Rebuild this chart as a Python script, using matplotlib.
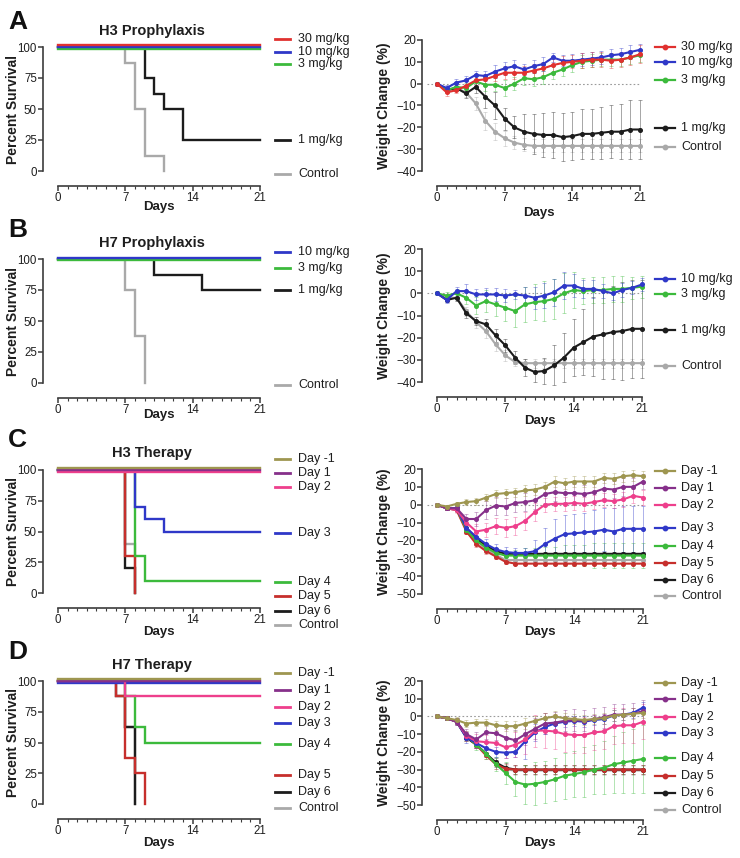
import matplotlib
matplotlib.use("Agg")
import matplotlib.pyplot as plt
import matplotlib.transforms as mtransforms
from matplotlib.lines import Line2D

plt.rcParams['font.family'] = ['Liberation Sans', 'DejaVu Sans']

# colours
RED = '#e0312f'
BLUE = '#2f38c8'
GREEN = '#3cba3c'
BLACK = '#1c1c1c'
GRAY = '#a9a9a9'
OLIVE = '#9e9650'
PURPLE = '#86308a'
PINK = '#ee3f8c'
DRED = '#c62f2c'

days = list(range(22))

# ---------------- A: H3 prophylaxis ----------------
a_surv_labels = ['30 mg/kg', '10 mg/kg', '3 mg/kg', '1 mg/kg', 'Control']
a_surv_t = [[0, 21], [0, 21], [0, 21], [0, 9, 10, 11, 13, 21], [0, 7, 8, 9, 11]]
a_surv_s = [[100, 100], [100, 100], [100, 100], [100, 75, 62.5, 50, 25, 25], [100, 87.5, 50, 12.5, 0]]

a_w30 = [0, -4, -3, -1, 1.5, 2, 3.5, 5, 5, 5, 6, 7, 8.5, 9.5, 10, 10.5, 11, 11, 10.5, 11, 12, 13.5]
a_w10 = [0, -2, 0.5, 1.5, 4, 3.5, 5.5, 7, 8, 6.5, 8, 9, 12, 10.5, 10.5, 11, 11.5, 12, 13, 13.5, 14.5, 15.5]
a_w3 = [0, -3, -1.5, -2, 1, -0.5, -0.5, -2, 0, 2.5, 2, 3, 5, 6.5, 8.5, 10, 10.5, 11, 11, 11, 12, 13]
a_w1 = [0, -3, -2, -4.5, -1.5, -6, -10, -16, -20, -22, -23, -23.5, -23.5, -24.5, -24, -23, -23, -22.5, -22, -22, -21, -21]
a_wc = [0, -3, -2, -4, -9, -17, -22, -25, -27, -28, -28.5, -28.5, -28.5, -28.5, -28.5, -28.5, -28.5, -28.5, -28.5, -28.5, -28.5, -28.5]
a_w30_err = [0, 1.5, 1.5, 2, 2, 2.5, 2.5, 3, 3, 3, 3, 3, 3, 3, 3, 3.5, 3.5, 3.5, 3.5, 3.5, 3.5, 4]
a_w10_err = [0, 1.5, 1.5, 2, 2, 2.5, 3, 3, 3, 2.5, 3, 3, 2, 2.5, 3, 3, 3, 3, 3, 3, 3, 2.5]
a_w3_err = [0, 1.5, 2, 2.5, 3, 3, 3, 3.5, 3, 3, 3, 3, 3, 3, 3, 3, 3, 3, 3, 3, 3, 3]
a_w1_err = [0, 1, 1, 2, 3, 5, 6, 5, 5, 8, 9, 10, 10.5, 11, 11, 11.5, 11.5, 12, 12, 12.5, 13.5, 13.5]
a_wc_err = [0, 1, 1.5, 2, 3, 4, 4, 3.5, 3, 3, 3, 3, 3, 3, 3, 3, 3, 3, 3, 3, 3, 3]

# ---------------- B: H7 prophylaxis ----------------
b_surv_labels = ['10 mg/kg', '3 mg/kg', '1 mg/kg', 'Control']
b_surv_t = [[0, 21], [0, 21], [0, 10, 15, 21], [0, 7, 8, 9]]
b_surv_s = [[100, 100], [100, 100], [100, 87.5, 75, 75], [100, 75, 37.5, 0]]

b_w10 = [0, -3, 1, 1, -0.5, -0.5, -0.5, -1, -0.5, -1, -2, -1, 0.5, 3.5, 3.5, 2, 2, 1, 0, 1.5, 2.5, 4]
b_w3 = [0, -1, 0, -2, -5.5, -3.5, -5, -6.5, -8, -5, -4, -3.5, -2.5, 0, 1.5, 1, 1.5, 1.5, 2, 2, 2.5, 3]
b_w1 = [0, -3, -2, -9, -12.5, -14, -19, -23.5, -29, -33.5, -35.5, -35, -32.5, -29, -24.5, -22, -19.5, -18.5, -17.5, -17, -16, -16]
b_wc = [0, -2, -2, -8, -13, -17, -23, -28, -31, -31.5, -31.5, -31.5, -31.5, -31.5, -31.5, -31.5, -31.5, -31.5, -31.5, -31.5, -31.5, -31.5]
b_w10_err = [0, 1.5, 2, 3, 2.5, 3, 3, 3, 2, 4, 5, 5.5, 6, 6, 5, 4, 4, 3, 3, 3, 3, 3]
b_w3_err = [0, 1.5, 2, 3, 4, 5, 5, 6, 7, 8, 8, 9, 9, 9, 8, 6, 6, 6, 6, 6, 5, 5]
b_w1_err = [0, 1, 1.5, 2, 2, 2.5, 3, 3, 3, 4, 4.5, 6, 9, 11, 13, 15, 18, 20, 21, 22, 22, 22]
b_wc_err = [0, 1, 1.5, 2, 2.5, 3, 3, 2.5, 2, 2, 2, 2, 2, 2, 2, 2, 2, 2, 2, 2, 2, 2]

# ---------------- C: H3 therapy ----------------
c_surv_labels = ['Day -1', 'Day 1', 'Day 2', 'Day 3', 'Day 4', 'Day 5', 'Day 6', 'Control']
c_surv_t = [[0, 21], [0, 21], [0, 21], [0, 8, 9, 11, 21], [0, 8, 9, 21], [0, 7, 8], [0, 7, 8], [0, 7, 8]]
c_surv_s = [[100, 100], [100, 100], [100, 100], [100, 70, 60, 50, 50], [100, 30, 10, 10],
            [100, 30, 0], [100, 20, 0], [100, 40, 0]]

c_wm1 = [0, -1, 0.5, 1.5, 2, 4, 6, 6.5, 7, 8, 8.5, 10, 13, 12, 13, 13, 13, 15, 14.5, 16, 16.5, 16]
c_w1 = [0, -2, -2, -8, -8, -3, -0.5, -1, 1, 1.5, 2.5, 6, 7, 6.5, 6.5, 6, 7, 9, 8.5, 10, 10, 13]
c_w2 = [0, -2, -3, -10, -15, -14, -12, -13, -12, -9, -4, 0, 0.5, 0.5, 1, 0.5, 1.5, 2.5, 2, 3, 5, 4]
c_w3 = [0, -2, -2, -13, -18, -22, -25, -26.5, -27, -27, -26, -22, -19, -16.5, -16, -15.5, -15, -14, -15, -13.5, -13.5, -13.5]
c_w4 = [0, -2, -2, -14, -20, -24, -27, -28.5, -28.5, -28.5, -28.5, -28.5, -28.5, -28.5, -28.5, -28.5, -28.5, -28.5, -28.5, -28.5, -28.5, -28.5]
c_w5 = [0, -2, -3, -15, -22, -26, -29, -32, -33, -33, -33, -33, -33, -33, -33, -33, -33, -33, -33, -33, -33, -33]
c_w6 = [0, -2, -2, -13, -19, -23, -26, -27.5, -27.5, -27.5, -27.5, -27.5, -27.5, -27.5, -27.5, -27.5, -27.5, -27.5, -27.5, -27.5, -27.5, -27.5]
c_wc = [0, -2, -3, -14, -20, -25, -28, -31, -31, -31, -31, -31, -31, -31, -31, -31, -31, -31, -31, -31, -31, -31]
c_wm1_err = [0, 1, 1, 1.5, 2, 2, 2.5, 2.5, 2.5, 3, 3, 3, 3, 3, 3, 3, 3, 3, 3, 3, 3, 3]
c_w1_err = [0, 1, 1.5, 3, 4, 5, 5, 5, 5, 5, 5, 5, 5, 5, 5, 5, 5, 5, 5, 5, 5, 4]
c_w2_err = [0, 1, 1.5, 3, 4, 4, 4.5, 5, 5, 5, 5, 4, 4, 4, 4, 4, 4, 4, 4, 4, 4, 4]
c_w3_err = [0, 1, 1.5, 3, 3, 3, 3, 3, 3, 3, 6, 9, 11, 11, 11, 11, 12, 12, 13, 13, 13, 13]
c_w4_err = [0, 1, 1.5, 2, 2, 2, 2, 2, 3, 4, 4, 5, 5, 6, 6, 6, 7, 7, 7, 7, 7, 7]
c_w5_err = [0, 1, 1, 1.5, 1.5, 1.5, 1.5, 1, 1, 1, 1, 1, 1, 1, 1, 1, 1, 1, 1, 1, 1, 1]
c_w6_err = [0, 1, 1, 1.5, 1.5, 1.5, 1.5, 1, 1, 1, 1, 1, 1, 1, 1, 1, 1, 1, 1, 1, 1, 1]
c_wc_err = [0, 1, 1, 1.5, 2, 2, 2, 1.5, 1.5, 1.5, 1.5, 1.5, 1.5, 1.5, 1.5, 1.5, 1.5, 1.5, 1.5, 1.5, 1.5, 1.5]

# ---------------- D: H7 therapy ----------------
d_surv_labels = ['Day -1', 'Day 1', 'Day 2', 'Day 3', 'Day 4', 'Day 5', 'Day 6', 'Control']
d_surv_t = [[0, 21], [0, 21], [0, 7, 21], [0, 21], [0, 7, 8, 9, 21], [0, 6, 7, 8, 9], [0, 6, 7, 8], [0, 7, 8]]
d_surv_s = [[100, 100], [100, 100], [100, 87.5, 87.5], [100, 100], [100, 87.5, 62.5, 50, 50],
            [100, 87.5, 37.5, 25, 0], [100, 87.5, 62.5, 0], [100, 62.5, 0]]

d_wm1 = [0, -1, -2, -4, -3.5, -3.5, -5, -5.5, -5.5, -4, -2.5, -1, 0, -1, -1.5, -2, -1.5, -1, 0.5, 1, 1.5, 2]
d_w1 = [0, -1, -3, -10, -13, -9, -9.5, -12, -13.5, -10, -7, -4, -3.5, -2.5, -2, -2.5, -1.5, -0.5, 1, 1, 1.5, 3]
d_w2 = [0, -1, -3, -11, -14, -14.5, -15, -17.5, -16, -13, -8, -8, -8.5, -10, -10.5, -10.5, -9, -8.5, -5.5, -5, -5, -3]
d_w3 = [0, -1, -3, -12, -15, -18, -20, -20.5, -20, -14, -9, -6, -4, -3, -2.5, -3, -2, -1.5, 0.5, 1, 2, 5]
d_w4 = [0, -1, -3, -11, -16, -21, -27, -32, -37, -38.5, -38, -37, -35.5, -33.5, -32.5, -31.5, -30, -29, -27, -26, -25, -24]
d_w5 = [0, -1, -3, -11, -16, -22, -27, -29.5, -30, -30, -30, -30, -30, -30, -30, -30, -30, -30, -30, -30, -30, -30]
d_w6 = [0, -1, -3, -12, -16, -21, -26, -29, -30, -30, -30, -30, -30, -30, -30, -30, -30, -30, -30, -30, -30, -30]
d_wc = [0, -1, -3, -11, -16, -21, -27, -30, -30.5, -30.5, -30.5, -30.5, -30.5, -30.5, -30.5, -30.5, -30.5, -30.5, -30.5, -30.5, -30.5, -30.5]
d_wm1_err = [0, 1, 1.5, 2, 2, 2, 2.5, 3, 3, 3, 3, 3, 3, 3, 3, 3, 3, 3, 3, 3, 3, 3]
d_w1_err = [0, 1, 2, 3, 4, 4, 4, 5, 6, 6, 6, 6, 6, 6, 6, 6, 6, 6, 6, 6, 6, 6]
d_w2_err = [0, 1, 2, 3, 4, 4, 5, 6, 7, 8, 9, 10, 10, 10, 10, 10, 10, 10, 10, 10, 10, 10]
d_w3_err = [0, 1, 2, 3, 3, 3, 3, 3, 3, 10, 5, 4, 3, 3, 3, 3, 3, 3, 3, 3, 3, 3]
d_w4_err = [0, 1, 2, 3, 3, 3, 4, 6, 8, 11, 12, 12, 12, 13, 13, 14, 14, 15, 16, 17, 18, 19]
d_w5_err = [0, 1, 1.5, 2, 2, 2, 2.5, 2.5, 2.5, 2.5, 2.5, 2.5, 2.5, 2.5, 2.5, 2.5, 2.5, 2.5, 2.5, 2.5, 2.5, 2.5]
d_w6_err = [0, 1, 1.5, 2, 2, 2, 2.5, 2.5, 2.5, 2.5, 2.5, 2.5, 2.5, 2.5, 2.5, 2.5, 2.5, 2.5, 2.5, 2.5, 2.5, 2.5]
d_wc_err = [0, 1, 1.5, 2, 2, 2, 2.5, 2.5, 2.5, 2.5, 2.5, 2.5, 2.5, 2.5, 2.5, 2.5, 2.5, 2.5, 2.5, 2.5, 2.5, 2.5]

W, H = 740, 858
fig = plt.figure(figsize=(W / 100, H / 100), dpi=100)
SPINE = '#3c3c3c'
TXT = '#1e1e1e'


def px_axes(x0, x1, y_top, y_bot):
    return fig.add_axes([x0 / W, 1 - y_bot / H, (x1 - x0) / W, (y_bot - y_top) / H])


def style(ax, ymin, ymax, yticks):
    ax.set_xlim(0, 21)
    ax.set_ylim(ymin, ymax)
    ax.patch.set_alpha(0)
    for s in ['top', 'right']:
        ax.spines[s].set_visible(False)
    for s in ['left', 'bottom']:
        ax.spines[s].set_position(('outward', 10.5))
        ax.spines[s].set_color(SPINE)
        ax.spines[s].set_linewidth(1.2)
    ax.spines['left'].set_bounds(ymin, ymax)
    ax.spines['bottom'].set_bounds(0, 21)
    ax.set_xticks([0, 7, 14, 21])
    ax.set_xticks(days, minor=True)
    ax.set_yticks(yticks)
    ax.tick_params(direction='out', length=3.5, width=1.1, labelsize=8.3, pad=1.2,
                   color=SPINE, labelcolor=TXT)
    ax.tick_params(which='minor', length=2, width=0.8, color=SPINE)


def fig_text(x, y, s, **kw):
    fig.text(x / W, 1 - y / H, s, **kw)


def legend(entries, xl0, xl1, xt, marker=False):
    for label, color, y in entries:
        fy = 1 - y / H
        xs = [xl0 / W, (xl0 + xl1) / 2 / W, xl1 / W]
        if marker:
            fig.add_artist(Line2D(xs, [fy] * 3, color=color, lw=1.6, marker='o',
                                  ms=3.2, markevery=[1]))
        else:
            fig.add_artist(Line2D(xs, [fy] * 3, color=color, lw=2.0))
        fig_text(xt, y, label, fontsize=9, va='center', ha='left', color=TXT)


def survival_panel(box, letter, letter_y, title, title_y, labels, ts, ss, colors, offsets,
                   leg_y, ylab_x, days_y):
    x0, x1, yt, yb = box
    ax = px_axes(x0, x1, yt, yb)
    style(ax, 0, 100, [0, 25, 50, 75, 100])
    for i in list(range(len(labels)))[::-1]:
        tr = mtransforms.offset_copy(ax.transData, fig=fig, y=offsets[i], units='points')
        ax.plot(ts[i], ss[i], drawstyle='steps-post', color=colors[i], lw=1.7,
                transform=tr, clip_on=False, solid_joinstyle='miter')
    fig_text(ylab_x, (yt + yb) / 2, 'Percent Survival', rotation=90, fontsize=10,
             fontweight='bold', ha='center', va='center', color=TXT)
    fig_text((x0 + x1) / 2, days_y, 'Days', fontsize=9.5, fontweight='bold',
             ha='center', va='center', color=TXT)
    fig_text(152, title_y, title, fontsize=10.5, fontweight='bold', ha='center',
             va='center', color=TXT)
    fig_text(8, letter_y, letter, fontsize=19, fontweight='bold', ha='left',
             va='center', color='#111')
    legend(list(zip(labels, colors, leg_y)), 275, 290, 298)
    return ax


def weight_panel(box, ylim, yticks, labels, series, errs, colors, leg_y, ylab_x, days_y):
    x0, x1, yt, yb = box
    ax = px_axes(x0, x1, yt, yb)
    style(ax, ylim[0], ylim[1], yticks)
    ax.axhline(0, xmin=-0.05, xmax=1, ls=(0, (1.5, 2)), color='#9a9a9a', lw=0.8,
               clip_on=False, zorder=0)
    for i in list(range(len(labels)))[::-1]:
        ax.errorbar(days, series[i], yerr=errs[i], fmt='none', ecolor=colors[i],
                    elinewidth=0.6, capsize=1.4, capthick=0.6, alpha=0.45, clip_on=False)
    for i in list(range(len(labels)))[::-1]:
        ax.plot(days, series[i], color=colors[i], lw=1.5, marker='o', ms=2.6,
                clip_on=False)
    fig_text(ylab_x, (yt + yb) / 2, 'Weight Change (%)', rotation=90, fontsize=10,
             fontweight='bold', ha='center', va='center', color=TXT)
    fig_text((x0 + x1) / 2, days_y, 'Days', fontsize=9.5, fontweight='bold',
             ha='center', va='center', color=TXT)
    legend(list(zip(labels, colors, leg_y)), 655, 675, 681, marker=True)
    return ax


# A
a_cols = [RED, BLUE, GREEN, BLACK, GRAY]
survival_panel((58, 260, 47, 171), 'A', 22, 'H3 Prophylaxis', 31, a_surv_labels,
               a_surv_t, a_surv_s, a_cols, [1.2, 0, -1.2, 0, 0],
               [39, 52, 64, 140, 174], 13, 207)
weight_panel((437, 640, 40, 171), (-40, 20), [-40, -30, -20, -10, 0, 10, 20],
             a_surv_labels, [a_w30, a_w10, a_w3, a_w1, a_wc],
             [a_w30_err, a_w10_err, a_w3_err, a_w1_err, a_wc_err], a_cols,
             [47, 62, 80, 128, 147], 384, 213)

# B
b_cols = [BLUE, GREEN, BLACK, GRAY]
survival_panel((58, 260, 259, 383), 'B', 230, 'H7 Prophylaxis', 243, b_surv_labels,
               b_surv_t, b_surv_s, b_cols, [0.6, -0.8, 0, 0],
               [252, 268, 290, 385], 13, 415)
weight_panel((437, 642, 249, 382), (-40, 20), [-40, -30, -20, -10, 0, 10, 20],
             b_surv_labels, [b_w10, b_w3, b_w1, b_wc],
             [b_w10_err, b_w3_err, b_w1_err, b_wc_err], b_cols,
             [279, 294, 330, 366], 384, 421)

# C
c_cols = [OLIVE, PURPLE, PINK, BLUE, GREEN, DRED, BLACK, GRAY]
survival_panel((58, 260, 470, 593), 'C', 440, 'H3 Therapy', 453, c_surv_labels,
               c_surv_t, c_surv_s, c_cols, [1.2, 0, -1.2, 0, 0, 0, 0, 0],
               [459, 473, 487, 533, 582, 596, 611, 625], 13, 632)
weight_panel((437, 643, 469, 594), (-50, 20), [-50, -40, -30, -20, -10, 0, 10, 20],
             c_surv_labels, [c_wm1, c_w1, c_w2, c_w3, c_w4, c_w5, c_w6, c_wc],
             [c_wm1_err, c_w1_err, c_w2_err, c_w3_err, c_w4_err, c_w5_err, c_w6_err, c_wc_err],
             c_cols, [471, 488, 505, 528, 546, 563, 580, 596], 384, 632)

# D
d_cols = [OLIVE, PURPLE, PINK, BLUE, GREEN, DRED, BLACK, GRAY]
survival_panel((58, 260, 681, 804), 'D', 652, 'H7 Therapy', 665, d_surv_labels,
               d_surv_t, d_surv_s, d_cols, [1.2, 0, 0, -1.2, 0, 0, 0, 0],
               [673, 690, 707, 723, 744, 775, 792, 808], 13, 843)
weight_panel((437, 643, 681, 805), (-50, 20), [-50, -40, -30, -20, -10, 0, 10, 20],
             d_surv_labels, [d_wm1, d_w1, d_w2, d_w3, d_w4, d_w5, d_w6, d_wc],
             [d_wm1_err, d_w1_err, d_w2_err, d_w3_err, d_w4_err, d_w5_err, d_w6_err, d_wc_err],
             d_cols, [683, 699, 717, 733, 758, 776, 793, 810], 384, 843)

fig.savefig('out.png', dpi=100, facecolor='white')
